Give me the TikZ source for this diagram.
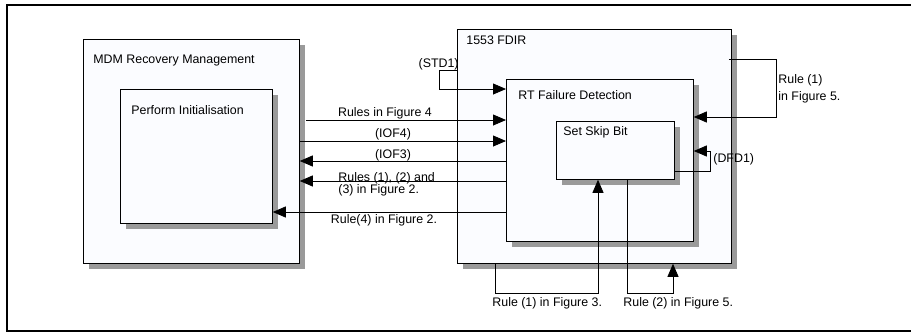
\documentclass[tikz,border=0pt]{standalone}
\usepackage{fontspec}
\setmainfont{Liberation Sans}
\usetikzlibrary{arrows.meta, shadows, calc}

\definecolor{boxfill}{HTML}{FBFCFF}
\definecolor{shadowgray}{HTML}{9A9A9A}

\begin{document}
\begin{tikzpicture}[x=1pt, y=-1pt, line width=0.8pt,
  font=\fontsize{12.4}{12.4}\selectfont,
  block/.style={draw, fill=boxfill, anchor=north west, inner sep=0pt,
    drop shadow={shadow xshift=5.5pt, shadow yshift=-5.5pt, fill=shadowgray, opacity=1}},
  title/.style={anchor=base west, inner sep=0pt},
  tag/.style={anchor=base, inner sep=0pt},
  arr/.style={-{Triangle[length=13pt, width=11pt]}}]

  \useasboundingbox (0,0) rectangle (911,332);
  \clip (0,0) rectangle (911,332);

  % page frame
  \draw[line width=2pt] (7,5) rectangle (950,331);

  % left hand blocks
  \node[block, minimum width=216pt, minimum height=224pt] (mdm) at (83,39) {};
  \node[title] (mdmtitle) at ($(mdm.north west)+(10,24)$) {MDM Recovery Management};
  \node[block, minimum width=152pt, minimum height=134pt] (init) at (120,89) {};
  \node[title] (inittitle) at ($(init.north west)+(11,25)$) {Perform Initialisation};

  % right hand blocks
  \node[block, minimum width=274pt, minimum height=234pt] (fdir) at (457,29) {};
  \node[title] (fdirtitle) at ($(fdir.north west)+(9,16)$) {1553 FDIR};
  \node[block, minimum width=187pt, minimum height=162pt] (rtfd) at (506,79) {};
  \node[title] (rtfdtitle) at ($(rtfd.north west)+(12,20)$) {RT Failure Detection};
  \node[block, minimum width=118pt, minimum height=58pt] (skip) at (556,121) {};
  \node[title] (skiptitle) at ($(skip.north west)+(7,14)$) {Set Skip Bit};

  % (STD1)
  \coordinate (stdbend) at (439,70);
  \draw[arr] (fdir.west |- stdbend) -- (stdbend) |- (rtfd.west |- 0,89);
  \node[anchor=base east, inner sep=0pt] (stdlbl) at (459,67) {(STD1)};

  % flows between the two blocks
  \draw[arr] ($(mdm.east |- 0,120)+(6,0)$) -- (rtfd.west |- 0,120);
  \node[tag] (fig4lbl) at (385,116) {Rules in Figure 4};
  \draw[arr] (mdm.east |- 0,141) -- (rtfd.west |- 0,141);
  \node[tag] (iof4lbl) at (393,137) {(IOF4)};
  \draw[arr] (rtfd.west |- 0,161) -- (mdm.east |- 0,161);
  \node[tag] (iof3lbl) at (393,158) {(IOF3)};
  \draw[arr] (rtfd.west |- 0,181) -- (mdm.east |- 0,181);
  \node[title] (fig2lbla) at (338,181) {Rules (1), (2) and};
  \node[title] (fig2lblb) at (338,193) {(3) in Figure 2.};
  \draw[arr] (rtfd.west |- 0,212) -- (init.east |- 0,212);
  \node[tag] (rule4lbl) at (384,223) {Rule(4) in Figure 2.};

  % Rule (1) in Figure 5
  \coordinate (r5top) at (776,59);
  \draw[arr] ($(fdir.east |- r5top)+(-3,0)$) -- (r5top) |- (rtfd.east |- 0,117);
  \node[title] (r5lbla) at (778,83) {Rule (1)};
  \node[title] (r5lblb) at (778,100) {in Figure 5.};

  % (DFD1) loop
  \coordinate (dfdbend) at (710,171);
  \draw[arr] (skip.east |- dfdbend) -- (dfdbend) |- (rtfd.east |- 0,151);
  \node[title] (dfdlbl) at (713,162) {(DFD1)};

  % Rule (1) in Figure 3
  \coordinate (r3low) at (495,293);
  \draw[arr] (fdir.south -| r3low) -- (r3low) -| (skip.south -| 598,0);
  \node[title] (r3lbl) at (492,306) {Rule (1) in Figure 3.};

  % Rule (2) in Figure 5
  \coordinate (r52low) at (627,293);
  \draw[arr] (skip.south -| r52low) -- (r52low) -| (fdir.south -| 673,0);
  \node[title] (r52lbl) at (623,306) {Rule (2) in Figure 5.};

\end{tikzpicture}
\end{document}
